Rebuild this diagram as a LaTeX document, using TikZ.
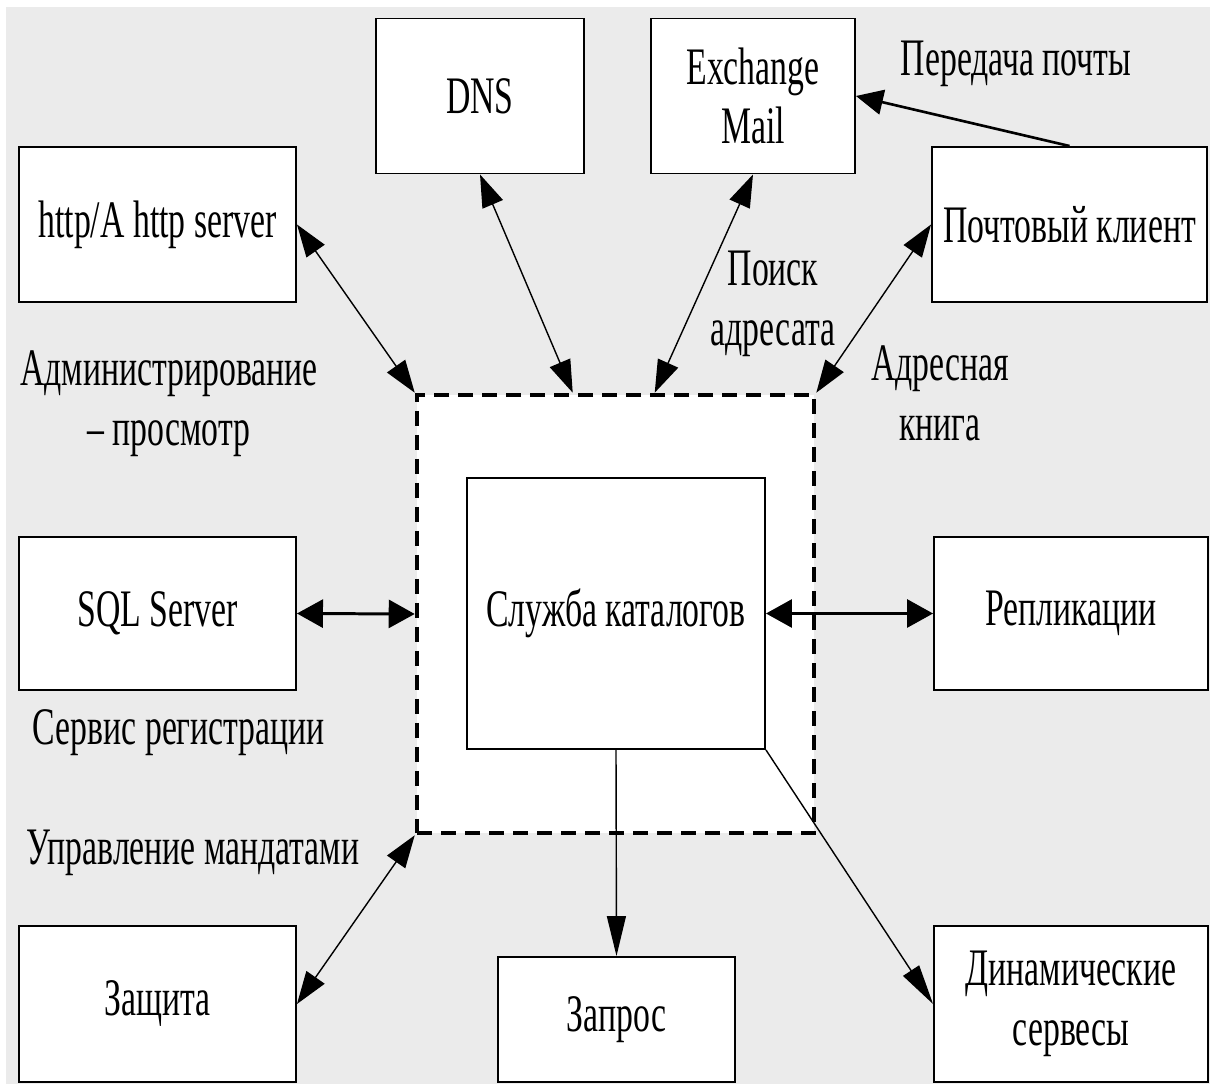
\documentclass[tikz,border=0pt]{standalone}
\usepackage{fontspec}
\setmainfont{Liberation Serif}[FakeStretch=0.64]
\usetikzlibrary{arrows.meta}
\definecolor{bggray}{RGB}{235,235,235}

\begin{document}
\begin{tikzpicture}[font=\fontsize{30}{34}\selectfont]
	\tikzstyle {Srv}   = [shape=rectangle, draw=black, line width=1.1pt, fill=white, minimum width=55.4mm, minimum height=31mm, inner sep=0pt, align=center]
	\tikzstyle {Frame} = [shape=rectangle, draw=black, line width=2.6pt, dash pattern=on 3mm off 1.8mm, fill=white, minimum width=79.4mm, minimum height=87.6mm, inner sep=0pt]
	\tikzstyle {Link}  = [line width=0.8pt, {Triangle[length=6.5mm,width=4.4mm]}-{Triangle[length=6.5mm,width=4.4mm]}]
	\tikzstyle {Wide}  = [line width=1.7pt, {Triangle[length=5.2mm,width=5.6mm]}-{Triangle[length=5.2mm,width=5.6mm]}]
	\tikzstyle {Down}  = [line width=0.8pt, -{Triangle[length=8mm,width=3.8mm]}]
	\tikzstyle {Post}  = [line width=1.5pt, -{Triangle[length=5.4mm,width=5mm]}]

	% background
	\fill[white] (0,0) rectangle (24.2,21.68);
	\fill[bggray] (0.12,0) rectangle (24.2,21.54);

	% directory service in its frame
	\node[Frame] (frame) at (12.31,9.40) {};
	\node[Srv, minimum width=59.6mm, minimum height=54.2mm] (core) at (12.32,9.41) {Служба каталогов};

	% upper row
	\node[Srv] (Srv-http) at (3.15,17.19) {http/A http server};
	\node[Srv, minimum width=41.6mm] (Srv-dns) at (9.6,19.76) {DNS};
	\node[Srv, minimum width=40.8mm] (Srv-mail) at (15.06,19.76) {Exchange\\Mail};
	\node[Srv, minimum width=55mm] (Srv-client) at (21.39,17.19) {Почтовый клиент};

	% middle row
	\node[Srv, minimum height=30.6mm] (Srv-sql) at (3.15,9.41) {SQL Server};
	\node[Srv, minimum width=54.8mm, minimum height=30.6mm] (Srv-repl) at (21.42,9.41) {Репликации};

	% lower row
	\node[Srv, minimum height=31.2mm] (Srv-prot) at (3.15,1.6) {Защита};
	\node[Srv, minimum width=47.4mm, minimum height=25mm] (Srv-query) at (12.33,1.29) {Запрос};
	\node[Srv, minimum width=54.8mm, minimum height=31.2mm] (Srv-dyn) at (21.42,1.6) {Динамические\\сервесы};

	% labels
	\node (lbl-post) at (20.32,20.4) {Передача почты};
	\node[align=center] (lbl-find) at (15.46,15.6) {Поиск\\адресата};
	\node[align=center] (lbl-book) at (18.8,13.82) {Адресная\\книга};
	\node[align=center] (lbl-admin) at (3.38,13.6) {Администрирование\\– просмотр};
	\node (lbl-reg) at (3.58,7.02) {Сервис регистрации};
	\node (lbl-cred) at (3.86,4.62) {Управление мандатами};

	\coordinate (frame-dns) at ([xshift=31.6mm]frame.north west);
	\coordinate (frame-mail) at ([xshift=48mm]frame.north west);

	\draw[Link] (Srv-http.east) -- (frame.north west);
	\draw[Link] (Srv-dns.south) -- (frame-dns);
	\draw[Link] (Srv-mail.south) -- (frame-mail);
	\draw[Link] (Srv-client.west) -- (frame.north east);
	\draw[Post] (Srv-client.north) -- (Srv-mail.east);
	\draw[Wide] (Srv-sql.east) -- (frame.west);
	\draw[Wide] (core.east) -- (Srv-repl.west);
	\draw[Link] (Srv-prot.east) -- (frame.south west);
	\draw[Down] (core.south) -- (Srv-query.north);
	\draw[Down] (core.south east) -- (Srv-dyn.west);
\end{tikzpicture}
\end{document}
